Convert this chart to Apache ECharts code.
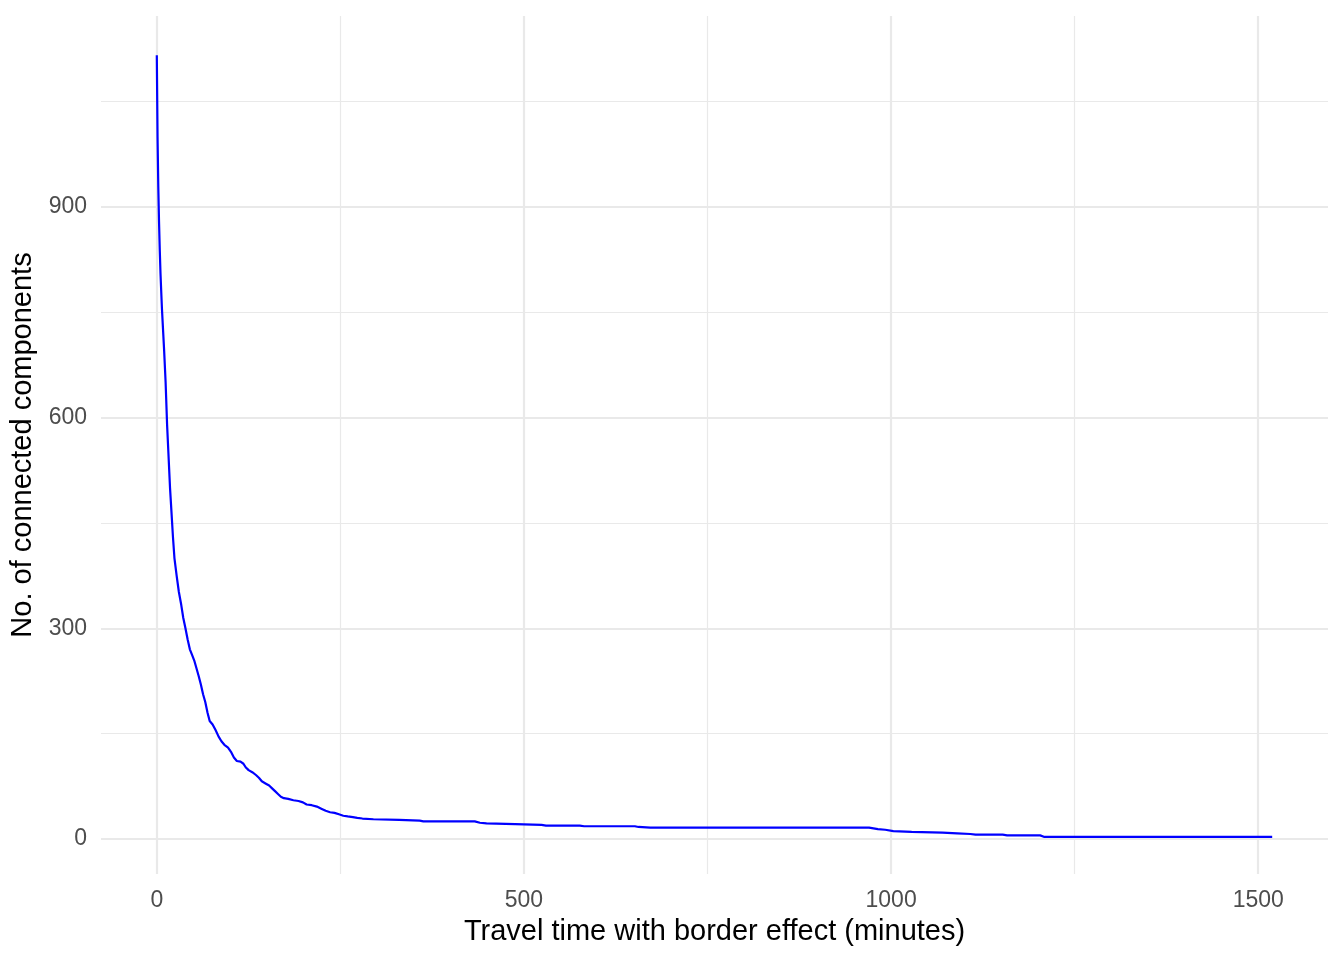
<!DOCTYPE html>
<html>
<head>
<meta charset="utf-8">
<script src="https://cdn.jsdelivr.net/npm/echarts@6/dist/echarts.min.js"></script>
<style>
html,body{margin:0;padding:0;background:#fff;}
#chart{width:1344px;height:960px;}
</style>
</head>
<body>
<div id="chart"></div>
<script>
// Data
const travelTime = [0, 1, 2, 3, 4, 5, 6, 7, 8, 9, 10, 12, 14, 16, 18, 20, 22, 24, 27, 30, 33, 36, 39, 42, 45, 48, 51, 54, 57, 60, 63, 66, 69, 72, 76, 80, 84, 88, 92, 97, 101, 105, 109, 114, 118, 121, 125, 130, 135, 139, 143, 148, 153, 157, 161, 165, 169, 173, 179, 186, 193, 199, 204, 211, 218, 224, 230, 236, 242, 248, 254, 260, 267, 273, 280, 295, 330, 358, 363, 433, 440, 449, 488, 524, 530, 576, 582, 651, 656, 672, 970, 976, 982, 992, 1003, 1028, 1070, 1090, 1108, 1115, 1152, 1158, 1203, 1208, 1519];
const components = [1116, 1000, 930, 880, 840, 806, 780, 755, 735, 715, 695, 650, 590, 545, 500, 465, 430, 400, 375, 352, 335, 315, 300, 284, 270, 262, 254, 243, 232, 220, 206, 195, 180, 168, 163, 155, 146, 139, 134, 130, 124, 116, 111, 110, 107, 102, 98, 95, 91, 87, 82, 79, 76, 72, 68, 64, 60, 58, 57, 55, 54, 52, 49, 48, 46, 43, 40, 38, 37, 35, 33, 32, 31, 30, 29, 28, 27, 26, 25, 25, 23, 22, 21, 20, 19, 19, 18, 18, 17, 16, 16, 15, 14, 13, 11, 10, 9, 8, 7, 6, 6, 5, 5, 3, 3];

const xTickLabels = [0, 500, 1000, 1500];
const yTickLabels = [0, 300, 600, 900];
const xMinorGrid = [250, 750, 1250];
const yMinorGrid = [150, 450, 750, 1050];

const seriesData = travelTime.map((t, i) => [t, components[i]]);

const gridColor = '#e9e9e9';
function gridLines(xs, ys) {
  return xs.map(v => ({ xAxis: v })).concat(ys.map(v => ({ yAxis: v })));
}
const plainNumber = v => String(v);

const chart = echarts.init(document.getElementById('chart'), null, { renderer: 'canvas' });
chart.setOption({
  animation: false,
  backgroundColor: '#ffffff',
  grid: { left: 101, right: 16, top: 16, bottom: 86, containLabel: false },
  xAxis: {
    type: 'value',
    min: -76,
    max: 1595,
    name: 'Travel time with border effect (minutes)',
    nameLocation: 'middle',
    nameGap: 43,
    nameTextStyle: { fontFamily: 'Liberation Sans', fontSize: 29, color: '#000000' },
    axisLine: { show: false },
    axisTick: { show: false },
    splitLine: { show: false },
    axisLabel: {
      customValues: xTickLabels,
      formatter: plainNumber,
      fontFamily: 'Liberation Sans',
      fontSize: 23,
      color: '#4d4d4d',
      margin: 15
    }
  },
  yAxis: {
    type: 'value',
    min: -50,
    max: 1172,
    name: 'No. of connected components',
    nameLocation: 'middle',
    nameGap: 60,
    nameTextStyle: { fontFamily: 'Liberation Sans', fontSize: 29, color: '#000000' },
    axisLine: { show: false },
    axisTick: { show: false },
    splitLine: { show: false },
    axisLabel: {
      customValues: yTickLabels,
      formatter: plainNumber,
      fontFamily: 'Liberation Sans',
      fontSize: 23,
      color: '#4d4d4d',
      margin: 14
    }
  },
  series: [
    {
      type: 'line',
      data: [],
      z: 1,
      silent: true,
      markLine: {
        z: 1,
        silent: true,
        symbol: 'none',
        label: { show: false },
        lineStyle: { color: gridColor, width: 1.2, type: 'solid' },
        emphasis: { disabled: true },
        data: gridLines(xMinorGrid, yMinorGrid)
      }
    },
    {
      type: 'line',
      data: [],
      z: 1,
      silent: true,
      markLine: {
        z: 1,
        silent: true,
        symbol: 'none',
        label: { show: false },
        lineStyle: { color: gridColor, width: 2.2, type: 'solid' },
        emphasis: { disabled: true },
        data: gridLines(xTickLabels, yTickLabels)
      }
    },
    {
      type: 'line',
      data: seriesData,
      z: 10,
      showSymbol: false,
      symbol: 'none',
      smooth: false,
      lineStyle: { color: '#0000ff', width: 2.2 },
      emphasis: { disabled: true }
    }
  ]
});
</script>
</body>
</html>
